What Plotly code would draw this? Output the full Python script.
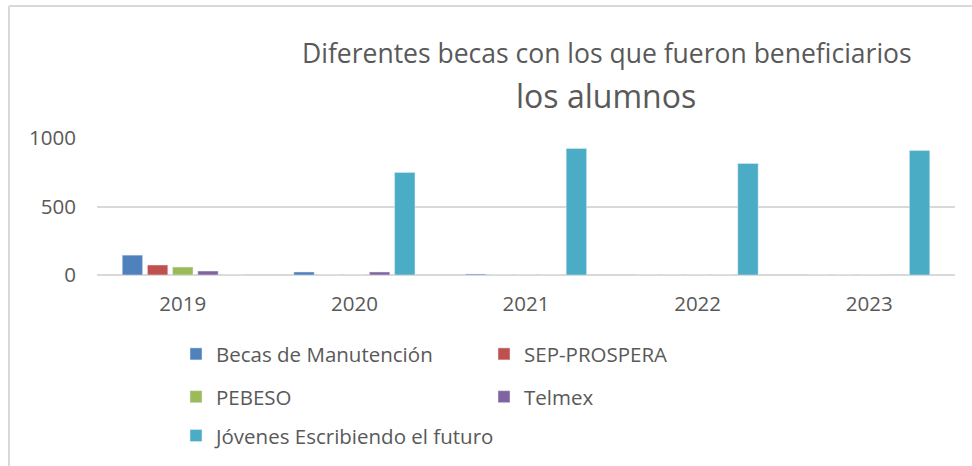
import plotly.graph_objects as go

# Datos
anios = ["2019", "2020", "2021", "2022", "2023"]
becas_manutencion = [145, 22, 7, 0, 0]
sep_prospera = [73, 0, 0, 0, 0]
pebeso = [58, 0, 0, 0, 0]
telmex = [29, 22, 0, 0, 2]
jovenes_futuro = [0, 749, 923, 814, 908]

series = [
    ("Becas de Manutención", becas_manutencion, "#4F81BD", "legend"),
    ("SEP-PROSPERA", sep_prospera, "#C0504D", "legend"),
    ("PEBESO", pebeso, "#9BBB59", "legend2"),
    ("Telmex", telmex, "#8064A2", "legend2"),
    ("Jóvenes Escribiendo el futuro", jovenes_futuro, "#4BACC6", "legend3"),
]

W, H = 972, 466
# area de trazado en pixeles
izq, der = 97, 955
y_cero, y_mil = 275.5, 137.8
alto = y_cero - y_mil


def py(p):
    """pixel vertical -> coordenada paper"""
    return (y_cero - p) / alto


def px(p):
    """pixel horizontal -> coordenada paper"""
    return (p - izq) / (der - izq)


gris_texto = "#595959"
gris_linea = "#D9D9D9"
fuente = "Open Sans, sans-serif"

fig = go.Figure()
for nombre, valores, color, leyenda in series:
    fig.add_trace(go.Bar(x=anios, y=valores, name=nombre,
                         marker_color=color, legend=leyenda))

ley = dict(orientation="h", xanchor="left", yanchor="middle",
           font=dict(family=fuente, size=20.5, color=gris_texto),
           bgcolor="rgba(0,0,0,0)", entrywidth=263, itemwidth=30,
           traceorder="normal")

fig.update_layout(
    width=W, height=H,
    margin=dict(l=izq, r=W - der, t=y_mil, b=H - y_cero, autoexpand=False),
    plot_bgcolor="white", paper_bgcolor="white",
    font=dict(family=fuente, size=20.5, color=gris_texto),
    barmode="group", bargap=0.266, bargroupgap=0.19,
    showlegend=True,
    legend=dict(ley, x=px(176), y=py(355)),
    legend2=dict(ley, x=px(176), y=py(398)),
    legend3=dict(ley, x=px(176), y=py(437), entrywidth=420),
    xaxis=dict(showgrid=False, showline=False, ticks="",
               tickfont=dict(size=20.5, color=gris_texto),
               ticklabelstandoff=14),
    yaxis=dict(range=[0, 1000], tickvals=[0, 500, 1000],
               showgrid=True, gridcolor=gris_linea, gridwidth=2,
               zeroline=True, zerolinecolor=gris_linea, zerolinewidth=2,
               showline=False, ticks="", ticklabelstandoff=20,
               tickfont=dict(size=20.5, color=gris_texto)),
    annotations=[
        dict(text="Diferentes becas con los que fueron beneficiarios",
             xref="paper", yref="paper", x=px(607), y=py(52),
             xanchor="center", yanchor="middle", showarrow=False,
             font=dict(family=fuente, size=26.5, color=gris_texto)),
        dict(text="los alumnos",
             xref="paper", yref="paper", x=px(606), y=py(95),
             xanchor="center", yanchor="middle", showarrow=False,
             font=dict(family=fuente, size=32, color=gris_texto)),
    ],
    shapes=[
        dict(type="line", xref="paper", yref="paper",
             x0=px(9), x1=px(990), y0=py(5), y1=py(5),
             line=dict(color=gris_linea, width=2)),
        dict(type="line", xref="paper", yref="paper",
             x0=px(9), x1=px(9), y0=py(5), y1=py(480),
             line=dict(color=gris_linea, width=2)),
    ],
)

# sin margen del body para que la figura ocupe la ventana completa
fig.write_html("out.html", config={"displayModeBar": False},
               post_script="document.body.style.margin='0';")
